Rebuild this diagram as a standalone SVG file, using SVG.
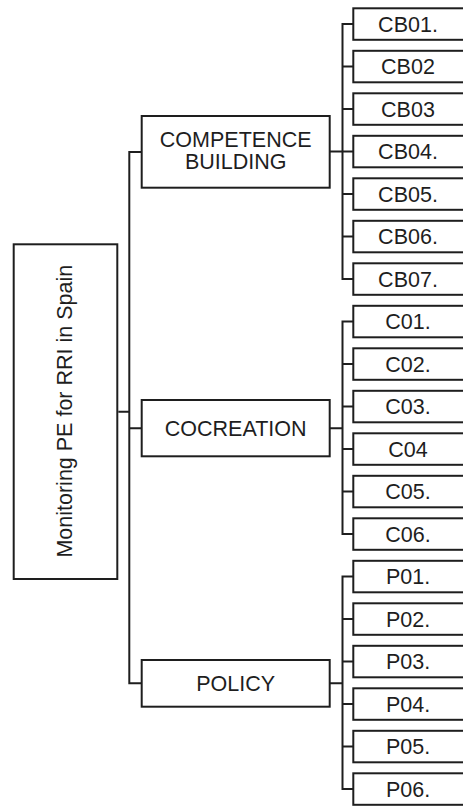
<svg xmlns="http://www.w3.org/2000/svg" width="463" height="806" viewBox="0 0 463 806">
<style>
.box{fill:#fff;stroke:#1e1e1e;stroke-width:2}
.ln{fill:none;stroke:#1e1e1e;stroke-width:2}
text{font-family:"Liberation Sans",Arial,sans-serif;font-size:21.5px;fill:#1e1e1e;text-anchor:middle}
</style>
<rect width="463" height="806" fill="#fff"/>
<g id="connectors">
<path class="ln" d="M118.3 411.7H129.3M141.7 152H129.3V683.3H141.7M129.3 428.2H141.7"/>
<path class="ln" d="M329.7 151.5H342.5M353.3 24H342.5V279H353.3M342.5 66.5H353.3M342.5 109H353.3M342.5 151.5H353.3M342.5 194H353.3M342.5 236.5H353.3"/>
<path class="ln" d="M329.7 428.2H342.5M353.3 321.5H342.5V534H353.3M342.5 364H353.3M342.5 406.5H353.3M342.5 449H353.3M342.5 491.5H353.3"/>
<path class="ln" d="M329.7 683.3H342.5M353.3 576.5H342.5V789H353.3M342.5 619H353.3M342.5 661.5H353.3M342.5 704H353.3M342.5 746.5H353.3"/>
</g>
<g id="root"><rect class="box" x="13.7" y="244.3" width="103.6" height="334.7"/><text transform="translate(71.5,411.2) rotate(-90)">Monitoring PE for RRI in Spain</text></g>
<g id="competence"><rect class="box" x="141.7" y="116" width="188" height="71.7"/><text x="235.7" y="146.7">COMPETENCE</text><text x="235.7" y="169.3">BUILDING</text></g>
<g id="cocreation"><rect class="box" x="141.7" y="400" width="188" height="56.3"/><text x="235.7" y="435.7">COCREATION</text></g>
<g id="policy"><rect class="box" x="141.7" y="660" width="188" height="46.7"/><text x="235.7" y="690.8">POLICY</text></g>
<g id="cb01"><rect class="box" x="353.3" y="8.3" width="111" height="31.5"/><text x="408" y="31.5">CB01.</text></g>
<g id="cb02"><rect class="box" x="353.3" y="50.8" width="111" height="31.5"/><text x="408" y="74">CB02</text></g>
<g id="cb03"><rect class="box" x="353.3" y="93.3" width="111" height="31.5"/><text x="408" y="116.5">CB03</text></g>
<g id="cb04"><rect class="box" x="353.3" y="135.8" width="111" height="31.5"/><text x="408" y="159">CB04.</text></g>
<g id="cb05"><rect class="box" x="353.3" y="178.3" width="111" height="31.5"/><text x="408" y="201.5">CB05.</text></g>
<g id="cb06"><rect class="box" x="353.3" y="220.8" width="111" height="31.5"/><text x="408" y="244">CB06.</text></g>
<g id="cb07"><rect class="box" x="353.3" y="263.3" width="111" height="31.5"/><text x="408" y="286.5">CB07.</text></g>
<g id="c01"><rect class="box" x="353.3" y="305.8" width="111" height="31.5"/><text x="408" y="329">C01.</text></g>
<g id="c02"><rect class="box" x="353.3" y="348.3" width="111" height="31.5"/><text x="408" y="371.5">C02.</text></g>
<g id="c03"><rect class="box" x="353.3" y="390.8" width="111" height="31.5"/><text x="408" y="414">C03.</text></g>
<g id="c04"><rect class="box" x="353.3" y="433.3" width="111" height="31.5"/><text x="408" y="456.5">C04</text></g>
<g id="c05"><rect class="box" x="353.3" y="475.8" width="111" height="31.5"/><text x="408" y="499">C05.</text></g>
<g id="c06"><rect class="box" x="353.3" y="518.3" width="111" height="31.5"/><text x="408" y="541.5">C06.</text></g>
<g id="p01"><rect class="box" x="353.3" y="560.8" width="111" height="31.5"/><text x="408" y="584">P01.</text></g>
<g id="p02"><rect class="box" x="353.3" y="603.3" width="111" height="31.5"/><text x="408" y="626.5">P02.</text></g>
<g id="p03"><rect class="box" x="353.3" y="645.8" width="111" height="31.5"/><text x="408" y="669">P03.</text></g>
<g id="p04"><rect class="box" x="353.3" y="688.3" width="111" height="31.5"/><text x="408" y="711.5">P04.</text></g>
<g id="p05"><rect class="box" x="353.3" y="730.8" width="111" height="31.5"/><text x="408" y="754">P05.</text></g>
<g id="p06"><rect class="box" x="353.3" y="773.3" width="111" height="31.5"/><text x="408" y="796.5">P06.</text></g>
</svg>
